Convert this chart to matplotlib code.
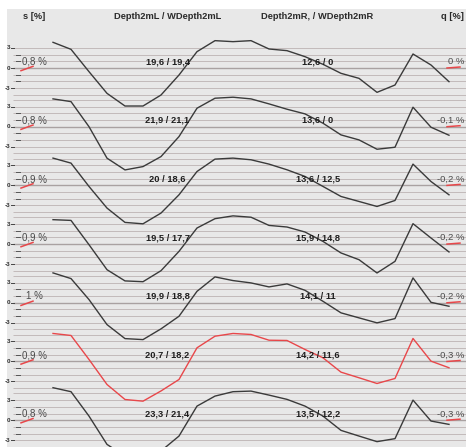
import numpy as np
import matplotlib
matplotlib.use("Agg")
import matplotlib.pyplot as plt
from matplotlib.patches import Rectangle

plt.rcParams['font.family'] = ['Liberation Sans', 'DejaVu Sans']

# per-section readings, top to bottom
s_pct = ['0,8 %', '0,8 %', '0,9 %', '0,9 %', '1 %', '0,9 %', '0,8 %']
q_pct = ['0 %', '-0,1 %', '-0,2 %', '-0,2 %', '-0,2 %', '-0,3 %', '-0,3 %']
depth_left = ['19,6 / 19,4', '21,9 / 21,1', '20 / 18,6', '19,5 / 17,7',
              '19,9 / 18,8', '20,7 / 18,2', '23,3 / 21,4']
depth_right = ['12,6 / 0', '13,6 / 0', '13,6 / 12,5', '15,9 / 14,8',
               '14,1 / 11', '14,2 / 11,6', '13,5 / 12,2']

# cross profiles, 23 stations each
prof1 = [3.85, 2.8, -0.55, -3.8, -5.7, -5.7, -4.05, -1.05, 2.45, 4.1, 3.95, 4.1,
         2.85, 2.6, 1.7, 0.55, -0.8, -1.55, -3.65, -2.55, 2.1, 0.45, -2.05]
prof2 = [4.17, 3.76, 0.0, -4.72, -6.48, -5.98, -4.48, -1.48, 2.77, 4.27, 4.42, 4.17,
         3.42, 2.62, 1.92, 0.52, -1.23, -1.98, -3.38, -3.08, 2.92, -0.08, -1.28]
prof3 = [4.09, 3.34, -0.16, -3.4, -5.55, -5.76, -4.15, -1.41, 2.08, 3.94, 4.09, 3.84,
         3.19, 2.34, 1.34, -0.16, -1.66, -2.41, -3.16, -2.26, 3.19, 0.58, -1.41]
prof4 = [3.66, 3.55, -0.09, -3.84, -5.52, -5.64, -3.99, -1.09, 2.41, 3.81, 4.23, 4.03,
         2.8, 2.56, 1.81, 0.4, -1.33, -2.34, -4.33, -2.59, 3.06, 0.91, -1.18]
prof5 = [4.48, 3.63, 0.48, -3.27, -5.37, -5.52, -3.91, -2.02, 1.72, 3.88, 3.33, 2.98,
         2.38, 2.83, 1.87, 0.22, -1.51, -2.26, -3.01, -2.37, 3.73, 0.07, -0.52]
prof6 = [4.2, 3.9, 0.3, -3.45, -5.7, -5.95, -4.42, -2.7, 2.05, 3.79, 4.2, 4.05,
         3.19, 3.15, 1.8, 0.55, -1.6, -2.44, -3.3, -2.55, 3.45, 0.05, -0.94]
prof7 = [4.87, 4.27, 0.61, -3.63, -5.4, -5.6, -4.62, -2.38, 2.11, 3.61, 4.27, 4.36,
         3.76, 3.12, 2.11, 0.61, -1.53, -2.38, -3.22, -2.77, 3.01, -0.13, -0.63]
profiles = [prof1, prof2, prof3, prof4, prof5, prof6, prof7]
highlight = 5

ROW = 8.8          # vertical spacing between sections
X0, STEP = 53, 18  # first station and station spacing
PX = 6.67          # pixels per unit vertically

fig = plt.figure(figsize=(4.66, 4.47), dpi=100)
fig.patch.set_facecolor('white')
ax = fig.add_axes([0, 0, 1, 1])
ax.set_xlim(0, 466)
ytop = 68 / PX
ybot = -(447 - 68) / PX
ax.set_ylim(ybot, ytop)
ax.axis('off')

ax.add_patch(Rectangle((7, ybot), 466 - 7, (68 - 9) / PX - ybot,
                       facecolor='#e8e8e8', edgecolor='none', zorder=0))

# header
hy = (68 - 16.5) / PX
hdr = dict(fontsize=6.7, fontweight='bold', color='#2a2a2a', ha='center', va='center')
ax.text(34.5, hy, 's [%]', **hdr)
ax.text(168, hy, 'Depth2mL / WDepth2mL', **hdr)
ax.text(317.5, hy, 'Depth2mR, / WDepth2mR', **hdr)
ax.text(452, hy, 'q [%]', **hdr)

for i, prof in enumerate(profiles):
    base = -ROW * i
    # grid lines
    for lev in range(-4, 5):
        if i == 0 and lev == 4:
            continue
        if lev == 0:
            ax.hlines(base, 13, 466, color='#a9a1a1', lw=1.0, zorder=1)
        else:
            ax.hlines(base + lev, 13, 466, color='#c2baba', lw=0.7, zorder=1)
    # left scale
    for lev, lab in [(3, '3'), (0, '0'), (-3, '-3')]:
        ax.text(10, base + lev, lab, fontsize=4.5, fontweight='bold',
                color='#333333', ha='right', va='center', zorder=3)
        ax.plot([10.5, 13.5], [base + lev] * 2, color='#444444', lw=0.7, zorder=3)
    for lev in (-2, -1, 1, 2):
        ax.plot([16, 19.5], [base + lev] * 2, color='#555555', lw=0.7, zorder=3)

    col = '#e8474a' if i == highlight else '#3a3a3a'
    x = X0 + STEP * np.arange(len(prof))
    ax.plot(x, base + np.array(prof), color=col, lw=1.0, zorder=4)

    ly = base + 0.95
    ax.text(34.5, ly, s_pct[i], fontsize=7, color='#4a4a4a', ha='center',
            va='center', zorder=5)
    ax.text(167.5, ly, depth_left[i], fontsize=6.7, fontweight='bold',
            color='#1e1e1e', ha='center', va='center', zorder=5)
    ax.text(318, ly, depth_right[i], fontsize=6.7, fontweight='bold',
            color='#1e1e1e', ha='center', va='center', zorder=5)
    ax.text(464.5, ly, q_pct[i], fontsize=6.8, color='#4a4a4a', ha='right',
            va='center', zorder=5)

    ax.plot([21, 33], [base - 0.4, base + 0.25], color='#e8474a', lw=1.1, zorder=5)
    ax.plot([447, 460], [base + 0.0, base + 0.15], color='#e8474a', lw=1.1, zorder=5)

fig.savefig('out.png', dpi=100)
